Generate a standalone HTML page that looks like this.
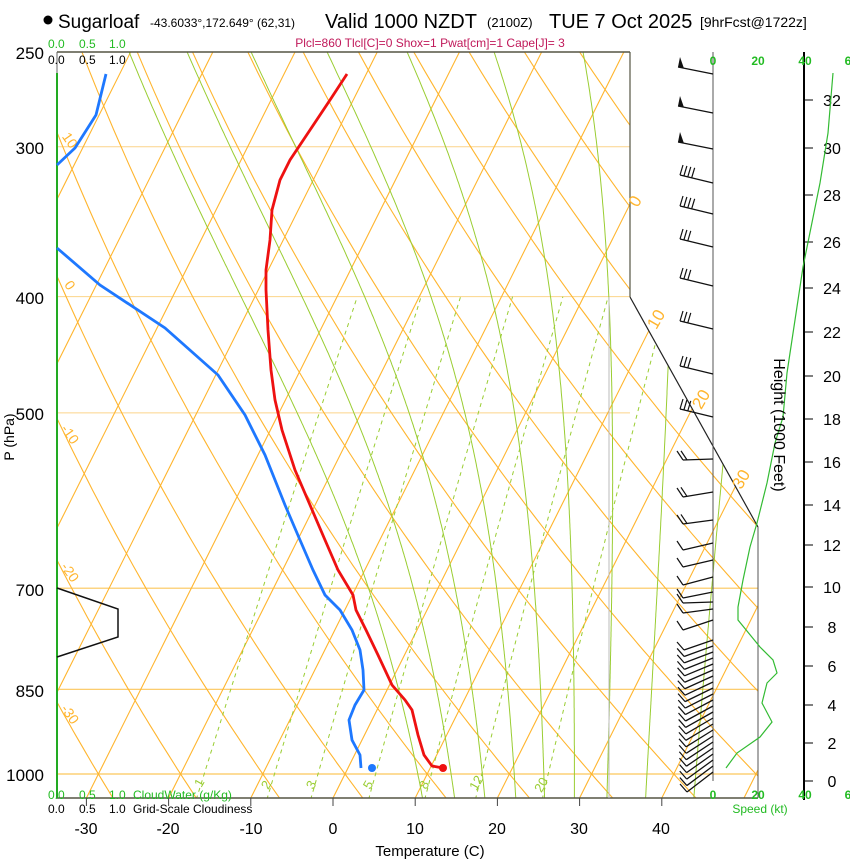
<!DOCTYPE html>
<html><head><meta charset="utf-8"><style>
body{margin:0;background:#fff;}
svg{display:block;font-family:"Liberation Sans",sans-serif;}
</style></head><body>
<svg id="s" width="850" height="860" xmlns="http://www.w3.org/2000/svg">
<defs><clipPath id="cp"><polygon points="57,52 630,52 630,297 758,527 758,798 57,798"/></clipPath></defs>
<g id="grid" clip-path="url(#cp)"></g>
<g id="fg"></g>
<circle cx="48" cy="20" r="4.5" fill="#000"/>
<text x="58" y="28" font-size="19">Sugarloaf</text>
<text x="150" y="27" font-size="12">-43.6033°,172.649° (62,31)</text>
<text x="325" y="28" font-size="20">Valid 1000 NZDT</text>
<text x="487" y="27" font-size="13">(2100Z)</text>
<text x="549" y="28" font-size="20">TUE 7 Oct 2025</text>
<text x="700" y="27" font-size="14">[9hrFcst@1722z]</text>
<text x="430" y="47" font-size="12" fill="#c0195a" text-anchor="middle">Plcl=860 Tlcl[C]=0 Shox=1 Pwat[cm]=1 Cape[J]= 3</text>
<g font-size="12" fill="#22bb22"><text x="48" y="48">0.0</text><text x="79" y="48">0.5</text><text x="109" y="48">1.0</text>
<text x="48" y="799">0.0</text><text x="79" y="799">0.5</text><text x="109" y="799">1.0</text><text x="133" y="799">CloudWater (g/Kg)</text></g>
<g font-size="12" fill="#000"><text x="48" y="64">0.0</text><text x="79" y="64">0.5</text><text x="109" y="64">1.0</text>
<text x="48" y="813">0.0</text><text x="79" y="813">0.5</text><text x="109" y="813">1.0</text><text x="133" y="813">Grid-Scale Cloudiness</text></g>
<g font-size="17" text-anchor="end"><text x="44" y="59">250</text><text x="44" y="154">300</text><text x="44" y="304">400</text><text x="44" y="420">500</text><text x="44" y="596">700</text><text x="44" y="697">850</text><text x="44" y="781">1000</text></g>
<text transform="translate(14,437) rotate(-90)" font-size="14" text-anchor="middle">P (hPa)</text>
<g font-size="16" text-anchor="middle"><text x="86" y="834">-30</text><text x="168" y="834">-20</text><text x="251" y="834">-10</text><text x="333" y="834">0</text><text x="415" y="834">10</text><text x="497" y="834">20</text><text x="579" y="834">30</text><text x="661" y="834">40</text></g>
<text x="430" y="856" font-size="15" text-anchor="middle">Temperature (C)</text>
<g font-size="12" font-weight="bold" fill="#22bb22" text-anchor="middle"><text x="713" y="65">0</text><text x="758" y="65">20</text><text x="805" y="65">40</text><text x="848" y="65">6</text>
<text x="713" y="799">0</text><text x="758" y="799">20</text><text x="805" y="799">40</text><text x="848" y="799">6</text></g>
<text x="760" y="813" font-size="12" fill="#22bb22" text-anchor="middle">Speed (kt)</text>
<text transform="translate(774,425) rotate(90)" font-size="16" text-anchor="middle">Height (1000 Feet)</text>
</svg>
<script>
var NS="http://www.w3.org/2000/svg";
function el(par,tag,a,txt){var e=document.createElementNS(NS,tag);for(var k in a)e.setAttribute(k,a[k]);if(txt!==undefined)e.textContent=txt;document.getElementById(par).appendChild(e);return e;}
function Y(p){return 774+521*Math.log(p/1000);}
function X(T,p){return 333+8.22*T+0.5*(798-Y(p));}
function pl(par,pts,st,w,dash){var d=pts.map(function(q,i){return (i?'L':'M')+q[0].toFixed(1)+','+q[1].toFixed(1);}).join('');var a={d:d,fill:'none',stroke:st,'stroke-width':w};if(dash)a['stroke-dasharray']=dash;el(par,'path',a);}
var OR="#ffb52e";
[300,400,500].forEach(function(p){el('grid','line',{x1:57,x2:630,y1:Y(p),y2:Y(p),stroke:"#fcd48a","stroke-width":1});});
[700,850,1000].forEach(function(p){el('grid','line',{x1:57,x2:758,y1:Y(p),y2:Y(p),stroke:"#fcc65a","stroke-width":1.2});});
for(var T=-150;T<=50;T+=10){pl('grid',[[X(T,1060),Y(1060)],[X(T,240),Y(240)]],OR,1.1);}
for(var th=-60;th<=220;th+=10){var pts=[];for(var p=1060;p>=240;p-=10){var t=(th+273.15)*Math.pow(p/1000,0.286)-273.15;pts.push([X(t,p),Y(p)]);}pl('grid',pts,OR,1.1);}
function es(t){return 6.112*Math.exp(17.67*t/(t+243.5));}
function ws(t,p){var e=es(t);return 0.622*e/(p-e);}
function moist(tw){function run(dir){var t=tw+273.15,p=1000;var arr=[];while(p>=240&&p<=1060){arr.push([X(t-273.15,p),Y(p)]);var w=ws(t-273.15,p);var g=(287*t+2.5e6*w)/(p*(1004+2.5e6*2.5e6*w*0.622/(287*t*t)));var dp=dir*2;t+=g*dp;p+=dp;}return arr;}
var up=run(-1),dn=run(1);return dn.reverse().concat(up);}
function topx(tw){var m=moist(tw);for(var i=0;i<m.length;i++){if(m[i][1]<=52)return m[i][0];}return m[m.length-1][0];}
[129,187,251,327,407,494,583,672,760].forEach(function(tx){var lo=-40,hi=50;for(var k=0;k<30;k++){var mid=(lo+hi)/2;if(topx(mid)<tx)lo=mid;else hi=mid;}pl('grid',moist((lo+hi)/2),"#9acd32",1);});
[1,2,3,5,8,12,20].forEach(function(w){var pts=[];for(var p=1050;p>=400;p-=10){var e=w*p/(622+w);var l=Math.log(e/6.112);var td=243.5*l/(17.67-l);pts.push([X(td,p),Y(p)]);}pl('grid',pts,"#9acd32",1,"4,4");});
el('fg','line',{x1:57,y1:52,x2:630,y2:52,stroke:"#554",'stroke-width':1.5});
el('fg','line',{x1:630,y1:52,x2:630,y2:297,stroke:"#554",'stroke-width':1.2});
el('fg','line',{x1:630,y1:297,x2:758,y2:527,stroke:"#222",'stroke-width':1.2});
el('fg','line',{x1:758,y1:527,x2:758,y2:798,stroke:"#555",'stroke-width':1});
el('fg','line',{x1:57,y1:798,x2:758,y2:798,stroke:"#554",'stroke-width':1.5});
el('fg','line',{x1:57,y1:52,x2:57,y2:73,stroke:"#666",'stroke-width':1});
el('fg','line',{x1:57,y1:73,x2:57,y2:798,stroke:"#22aa22",'stroke-width':2});
el('fg','line',{x1:609,y1:297,x2:609,y2:798,stroke:"#bbb",'stroke-width':1});
el('fg','line',{x1:713,y1:52,x2:713,y2:781,stroke:"#555",'stroke-width':1});
el('fg','line',{x1:804,y1:52,x2:804,y2:800,stroke:"#000",'stroke-width':2});
[-30,-20,-10,0,10,20,30,40].forEach(function(t){var x=333+8.22*t;el('fg','line',{x1:x,x2:x,y1:798,y2:806,stroke:"#444"});});
[["0",640,204,-60],["10",661,322,-60],["20",706,402,-60],["30",746,482,-60]].forEach(function(a){el('fg','text',{x:a[1],y:a[2],'font-size':17,fill:OR,'text-anchor':'middle',transform:'rotate('+a[3]+' '+a[1]+' '+a[2]+')'},a[0]);});
[["10",66,143],["0",66,288],["-10",66,437],["-20",66,575],["-30",66,717]].forEach(function(a){el('fg','text',{x:a[1],y:a[2],'font-size':14,fill:OR,'text-anchor':'middle',transform:'rotate(55 '+a[1]+' '+a[2]+')'},a[0]);});
[["1",203,785],["2",270,787],["3",315,787],["5",372,787],["8",428,787],["12",480,785],["20",545,787]].forEach(function(a){el('fg','text',{x:a[1],y:a[2],'font-size':13,fill:"#9acd32",'text-anchor':'middle',transform:'rotate(-60 '+a[1]+' '+a[2]+')'},a[0]);});
[[32,100],[30,148],[28,195],[26,242],[24,288],[22,332],[20,376],[18,419],[16,462],[14,505],[12,545],[10,587],[8,627],[6,666],[4,705],[2,743],[0,781]].forEach(function(h){el('fg','line',{x1:804,x2:813,y1:h[1],y2:h[1],stroke:"#000"});el('fg','text',{x:832,y:h[1]+6,'font-size':16,'text-anchor':'middle'},String(h[0]));});
pl('fg',[[57,588],[118,609],[118,637],[57,657]],"#111",1.5);
pl('fg',[[347,74],[330,100],[310,130],[290,160],[280,180],[272,210],[270,240],[266,270],[266,290],[268,330],[271,370],[275,400],[282,430],[295,470],[310,505],[325,540],[338,570],[353,595],[356,610],[366,630],[378,655],[392,685],[405,700],[412,710],[418,735],[424,755],[432,766],[443,768]],"#ee1111",2.8);
pl('fg',[[106,74],[96,115],[75,148],[57,165]],"#1e78ff",2.8);
pl('fg',[[57,248],[100,285],[165,328],[218,375],[245,415],[265,455],[285,505],[300,540],[313,570],[325,595],[340,610],[352,630],[360,650],[363,670],[364,690],[355,705],[349,720],[352,740],[360,755],[361,768]],"#1e78ff",2.8);
el('fg','circle',{cx:443,cy:768,r:4,fill:"#ee1111"});
el('fg','circle',{cx:372,cy:768,r:4,fill:"#1e78ff"});
pl('fg',[[726,768],[737,753],[760,737],[772,722],[762,703],[767,683],[777,673],[773,660],[760,647],[738,620],[738,607],[743,580],[750,547],[757,523],[767,483],[775,443],[783,417],[787,373],[803,267],[820,183],[828,133],[833,73]],"#33bb33",1.2);
function barb(yb,tx,ty,nf,flag,fx,fy){el('fg','line',{x1:713,y1:yb,x2:tx,y2:ty,stroke:"#111","stroke-width":1.3});var dx=(713-tx),dy=(yb-ty),L=Math.sqrt(dx*dx+dy*dy),ux=dx/L,uy=dy/L;
 if(flag){el('fg','polygon',{points:tx+','+ty+' '+(tx+ux*6)+','+(ty+uy*6)+' '+(tx+2)+','+(ty-10),fill:"#111"});return;}
 for(var i=0;i<nf;i++){var bx=tx+ux*4*i,by=ty+uy*4*i;el('fg','line',{x1:bx,y1:by,x2:bx+fx,y2:by+fy,stroke:"#111","stroke-width":1.2});}}
[74,113,149].forEach(function(y){barb(y,678,y-7,0,true);});
[[183,4],[214,4],[247,3],[286,3],[329,3],[374,3],[417,3]].forEach(function(a){barb(a[0],680,a[0]-8,a[1],false,3,-10);});
[[459,460,2],[492,497,2],[520,524,2],[543,550,1],[560,567,1],[577,585,1],[592,598,1],[602,603,1],[609,613,1],[620,630,1]].forEach(function(a){barb(a[0],683,a[1],a[2],false,-6,-9);});
for(var y=640;y<=772;y+=6){var off=10+(y-640)/132*10;barb(y,684+(y-640)/132*3,y+off,1,false,-7,-8);}
</script>
</body></html>
